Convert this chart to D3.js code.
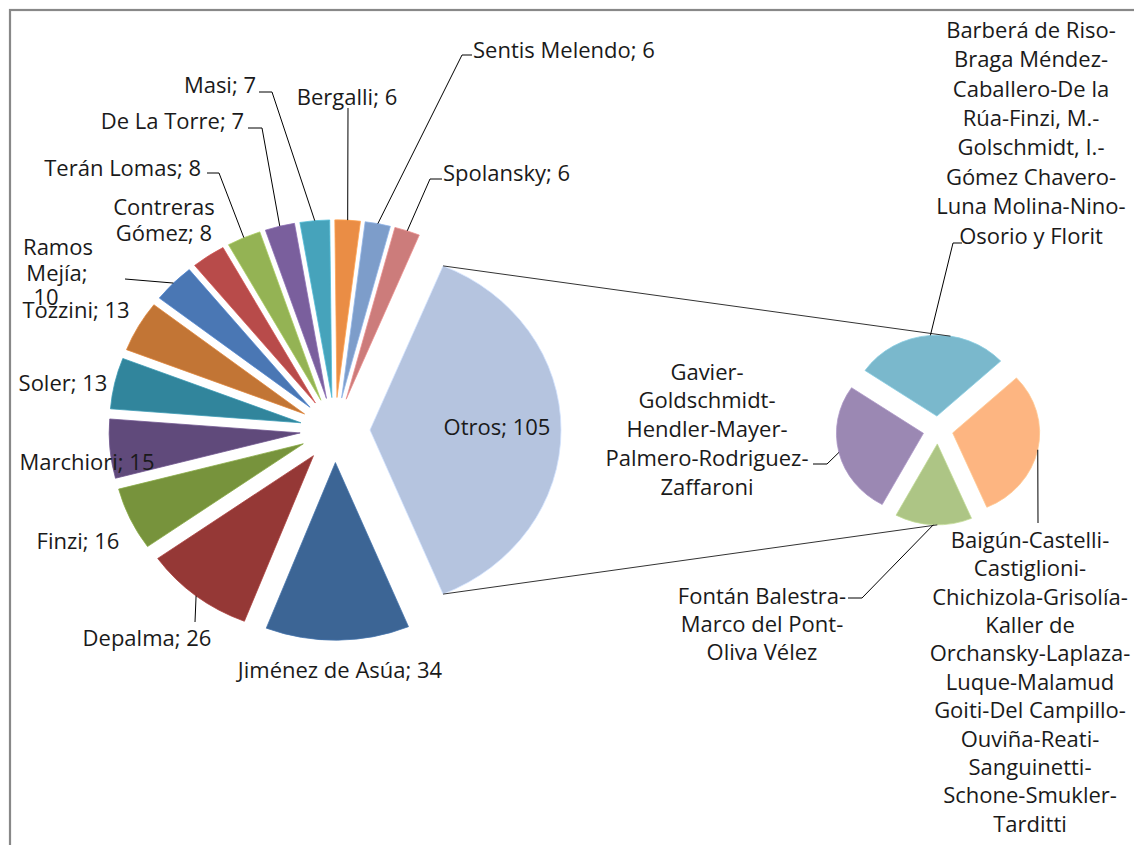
<!DOCTYPE html>
<html><head><meta charset="utf-8">
<script src="https://cdn.jsdelivr.net/npm/d3@7/dist/d3.min.js"></script>
<style>body{margin:0;background:#fff;overflow:hidden}</style>
</head><body>
<svg id="chart" width="1134" height="845"></svg>
<script>
// ---------------- DATA ----------------
const mainCategories = ["Otros","Jiménez de Asúa","Depalma","Finzi","Marchiori","Soler","Tozzini","Ramos Mejía","Contreras Gómez","Terán Lomas","De La Torre","Masi","Bergalli","Sentis Melendo","Spolansky"];
const mainValues = [105,34,26,16,15,13,13,10,8,8,7,7,6,6,6];
const secondCategories = [
  "Barberá de Riso-Braga Méndez-Caballero-De la Rúa-Finzi, M.-Golschmidt, I.-Gómez Chavero-Luna Molina-Nino-Osorio y Florit",
  "Baigún-Castelli-Castiglioni-Chichizola-Grisolía-Kaller de Orchansky-Laplaza-Luque-Malamud Goiti-Del Campillo-Ouviña-Reati-Sanguinetti-Schone-Smukler-Tarditti",
  "Fontán Balestra-Marco del Pont-Oliva Vélez",
  "Gavier-Goldschmidt-Hendler-Mayer-Palmero-Rodriguez-Zaffaroni"
];
const secondValues = [30,32,15,28];

// ---------------- STYLE / LAYOUT ----------------
const mainColors = ["#B5C4DF","#3C6595","#953836","#77933C","#604A7B","#31859C","#C27535","#4A77B4","#B84B4A","#94B354","#7A5F9D","#46A3BB","#EA8D45","#7D9DCA","#CC7C7B"];
const secondColors = ["#7AB8CC","#FDB581","#ADC585","#9B88B3"];
const KY = 0.93;
const M = {cx:335, cy:430, r:191, explode:35};
const S = {cx:938, cy:430, r:87, explode:15, startDeg:-55.7};
const FONT = "'Open Sans', 'Noto Sans', sans-serif";
const FS = 22;

const mainLabelLayout = [
  {lines:[{x:497,y:427}], anchor:"middle"},
  {lines:[{x:340,y:670}], anchor:"middle"},
  {lines:[{x:147,y:638}], anchor:"middle", leader:[[195,622]]},
  {lines:[{x:78,y:541}], anchor:"middle"},
  {lines:[{x:87,y:462}], anchor:"middle"},
  {lines:[{x:63,y:383}], anchor:"middle"},
  {lines:[{x:76,y:310}], anchor:"middle"},
  {lines:[{x:58,y:247},{x:57,y:273},{x:46,y:297}], anchor:"middle", leader:[[125,279]]},
  {lines:[{x:164,y:207},{x:164,y:233}], anchor:"middle"},
  {lines:[{x:201,y:168}], anchor:"end", leader:[[207,173],[219,173]]},
  {lines:[{x:244,y:121}], anchor:"end", leader:[[248,128],[262,128]]},
  {lines:[{x:256,y:85}], anchor:"end", leader:[[259,92],[272,92]]},
  {lines:[{x:347,y:97}], anchor:"middle", leader:[[348,108]]},
  {lines:[{x:473,y:50}], anchor:"start", leader:[[472,55],[462,55]]},
  {lines:[{x:443,y:173}], anchor:"start", leader:[[442,179],[430,179]]}
];
// line splits of the label text (Excel wrapping)
const mainWrap = {7:["Ramos","Mejía;","10"], 8:["Contreras","Gómez; 8"]};
const secondWrap = [
  ["Barberá de Riso-","Braga Méndez-","Caballero-De la","Rúa-Finzi, M.-","Golschmidt, I.-","Gómez Chavero-","Luna Molina-Nino-","Osorio y Florit"],
  ["Baigún-Castelli-","Castiglioni-","Chichizola-Grisolía-","Kaller de","Orchansky-Laplaza-","Luque-Malamud","Goiti-Del Campillo-","Ouviña-Reati-","Sanguinetti-","Schone-Smukler-","Tarditti"],
  ["Fontán Balestra-","Marco del Pont-","Oliva Vélez"],
  ["Gavier-","Goldschmidt-","Hendler-Mayer-","Palmero-Rodriguez-","Zaffaroni"]
];
const secondLabelLayout = [
  {x:1031, y:30, step:29.4, leader:[[962,243],[953,243]]},
  {x:1030, y:540, step:28.4, leader:[[1038,523]]},
  {x:762, y:596, step:28, leader:[[848,598],[862,598]]},
  {x:707, y:372, step:28.7, leader:[[813,464],[827,464]]}
];

// ---------------- DRAW ----------------
const svg = d3.select("#chart");
svg.append("rect").attr("x",10).attr("y",10).attr("width",1300).attr("height",1000)
  .attr("fill","#fff").attr("stroke","#888").attr("stroke-width",2.2);

function apexPt(c, d, a, dist){ // point at angle a, distance dist from exploded apex of slice d
  const mid=(d.startAngle+d.endAngle)/2;
  return [c.cx + c.explode*Math.sin(mid) + dist*Math.sin(a), c.cy - (c.explode*Math.cos(mid) + dist*Math.cos(a))*KY];
}

const total = d3.sum(mainValues);
const a0 = Math.PI/2 - Math.PI*mainValues[0]/total;
const mainArcs = d3.pie().sort(null).value(d=>d).startAngle(a0).endAngle(a0+2*Math.PI)(mainValues);
const arcM = d3.arc().innerRadius(0).outerRadius(M.r);

const gM = svg.append("g").attr("transform",`translate(${M.cx},${M.cy}) scale(1,${KY})`);
gM.selectAll("path").data(mainArcs).join("path")
  .attr("d",arcM)
  .attr("fill",(d,i)=>mainColors[i])
  .attr("stroke",(d,i)=>d3.color(mainColors[i]).brighter(0.4))
  .attr("stroke-width",0.8)
  .attr("transform",d=>{const m=(d.startAngle+d.endAngle)/2;return `translate(${M.explode*Math.sin(m)},${-M.explode*Math.cos(m)})`;});

const s0 = S.startDeg*Math.PI/180;
const secArcs = d3.pie().sort(null).value(d=>d).startAngle(s0).endAngle(s0+2*Math.PI)(secondValues);
const arcS = d3.arc().innerRadius(0).outerRadius(S.r);
const gS = svg.append("g").attr("transform",`translate(${S.cx},${S.cy}) scale(1,${KY})`);
gS.selectAll("path").data(secArcs).join("path")
  .attr("d",arcS)
  .attr("fill",(d,i)=>secondColors[i])
  .attr("stroke",(d,i)=>d3.color(secondColors[i]).brighter(0.3))
  .attr("stroke-width",0.8)
  .attr("transform",d=>{const m=(d.startAngle+d.endAngle)/2;return `translate(${S.explode*Math.sin(m)},${-S.explode*Math.cos(m)})`;});

// connector lines between the pies
const otros = mainArcs[0];
const topA = apexPt(M, otros, otros.startAngle, M.r);
const botA = apexPt(M, otros, otros.endAngle, M.r);
const topB = apexPt(S, secArcs[0], 9*Math.PI/180, S.r);
const botB = apexPt(S, secArcs[2], Math.PI, S.r);
const line = d3.line();
svg.append("path").attr("d",line([topA,topB])).attr("stroke","#333").attr("stroke-width",1).attr("fill","none");
svg.append("path").attr("d",line([botA,botB])).attr("stroke","#333").attr("stroke-width",1).attr("fill","none");

// leaders
function outerMid(c,d){const m=(d.startAngle+d.endAngle)/2; return apexPt(c,d,m,c.r);}
mainLabelLayout.forEach((L,i)=>{
  if(!L.leader) return;
  svg.append("path").attr("d",line([...L.leader, outerMid(M,mainArcs[i])]))
    .attr("stroke","#000").attr("stroke-width",1).attr("fill","none");
});
secondLabelLayout.forEach((L,i)=>{
  svg.append("path").attr("d",line([...L.leader, outerMid(S,secArcs[i])]))
    .attr("stroke","#000").attr("stroke-width",1).attr("fill","none");
});

// labels
const txt = svg.append("g").attr("font-family",FONT).attr("font-size",FS).attr("fill","#1a1a1a");
mainLabelLayout.forEach((L,i)=>{
  const lines = mainWrap[i] || [`${mainCategories[i]}; ${mainValues[i]}`];
  lines.forEach((t,j)=>{
    txt.append("text").attr("x",L.lines[j].x).attr("y",L.lines[j].y).attr("dy","0.35em")
      .attr("text-anchor",L.anchor).text(t);
  });
});
secondLabelLayout.forEach((L,i)=>{
  secondWrap[i].forEach((t,j)=>{
    txt.append("text").attr("x",L.x).attr("y",L.y+j*L.step).attr("dy","0.35em")
      .attr("text-anchor","middle").text(t);
  });
});
</script>
</body></html>
